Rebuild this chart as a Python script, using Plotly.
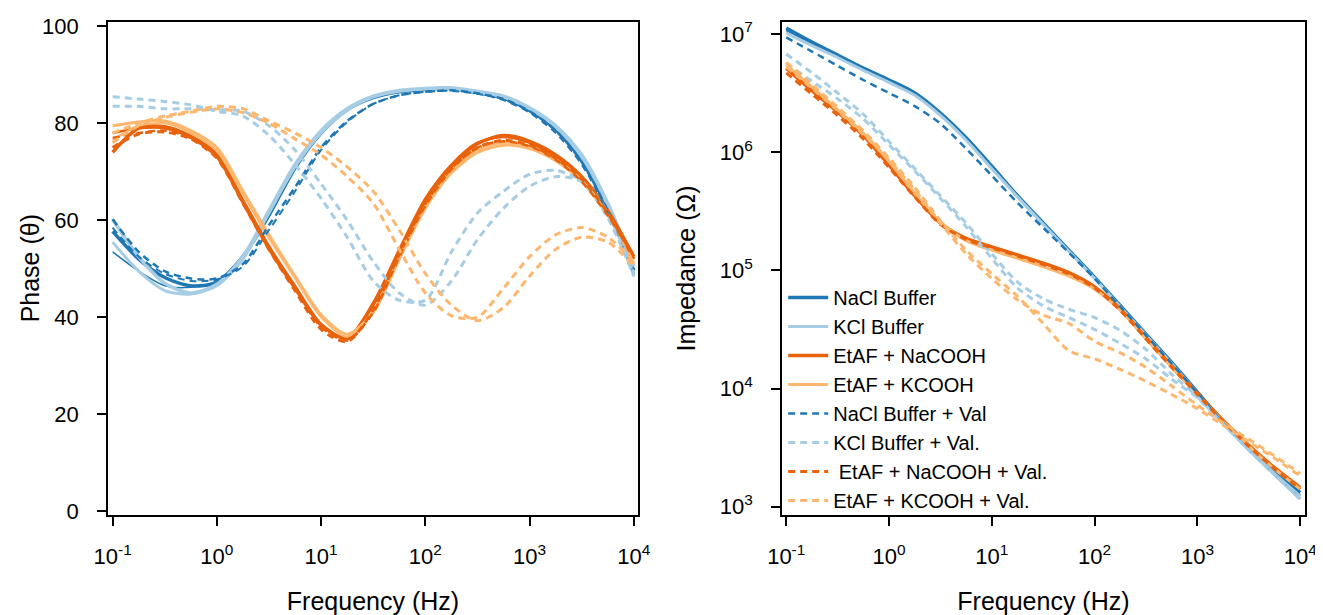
import plotly.graph_objects as go

# frequency grid (Hz), 4 points per decade
freq = [0.1, 0.178, 0.316, 0.562, 1, 1.78, 3.16, 5.62, 10, 17.8, 31.6, 56.2,
        100, 178, 316, 562, 1000, 1780, 3160, 5620, 10000]

# ---- phase (degrees), two replicates per condition ----
ph_nacl_1 = [57.7, 52.0, 48.2, 46.5, 47.2, 52.5, 61.0, 70.8, 78.0, 82.8, 85.3, 86.5, 87.0, 87.2, 86.3, 85.2, 82.7, 78.8, 72.5, 62.5, 49.6]
ph_nacl_2 = [53.5, 49.5, 46.5, 46.2, 47.5, 52.8, 61.5, 71.0, 78.3, 83.0, 85.5, 86.6, 87.0, 87.0, 86.2, 85.0, 82.5, 78.5, 72.0, 62.0, 49.0]
ph_kcl_1 = [60.2, 52.5, 47.0, 45.0, 46.8, 52.5, 62.0, 71.5, 78.5, 83.0, 85.6, 86.8, 87.2, 87.3, 86.6, 85.6, 83.2, 79.5, 73.5, 63.5, 50.5]
ph_kcl_2 = [55.5, 49.5, 45.5, 44.8, 46.5, 52.0, 61.5, 71.0, 78.0, 82.7, 85.4, 86.6, 87.1, 87.2, 86.4, 85.4, 83.0, 79.2, 73.0, 63.0, 48.5]
ph_etna_1 = [74.0, 79.0, 79.3, 77.3, 73.5, 64.0, 54.5, 46.3, 38.5, 35.6, 42.6, 53.5, 64.0, 71.2, 75.8, 77.5, 76.3, 73.5, 69.0, 62.0, 52.5]
ph_etna_2 = [78.0, 79.0, 79.0, 77.0, 73.0, 63.5, 54.0, 45.8, 38.2, 35.8, 43.0, 54.0, 64.5, 71.5, 76.0, 77.2, 76.0, 73.0, 68.5, 61.5, 52.0]
ph_etk_1 = [79.5, 80.3, 80.5, 78.5, 75.0, 66.0, 57.0, 48.5, 40.5, 36.5, 41.0, 52.0, 62.5, 69.8, 74.0, 75.5, 74.8, 72.3, 68.0, 61.0, 51.0]
ph_etk_2 = [76.5, 79.5, 80.0, 78.0, 74.3, 65.3, 56.3, 48.0, 40.0, 36.0, 41.5, 52.5, 63.0, 70.2, 74.5, 76.0, 75.2, 72.6, 68.3, 61.3, 51.5]
ph_nacl_val_1 = [60.2, 53.5, 49.5, 48.0, 48.0, 51.0, 59.0, 66.8, 75.0, 80.5, 84.0, 85.8, 86.5, 86.8, 86.2, 85.0, 82.5, 78.5, 72.0, 62.0, 49.0]
ph_nacl_val_2 = [58.5, 52.5, 49.0, 47.5, 47.8, 50.5, 58.0, 66.0, 74.5, 80.3, 84.0, 85.8, 86.5, 86.7, 86.1, 84.8, 82.2, 78.0, 71.5, 61.5, 48.5]
ph_kcl_val_1 = [85.5, 85.0, 84.5, 83.8, 82.5, 81.5, 77.5, 71.5, 64.5, 56.5, 47.5, 43.5, 43.5, 53.5, 61.5, 66.0, 69.5, 70.3, 68.0, 60.5, 48.5]
ph_kcl_val_2 = [83.5, 83.5, 83.0, 83.0, 82.8, 82.5, 79.5, 74.5, 67.5, 60.0, 51.5, 45.0, 42.5, 47.5, 56.0, 62.5, 67.0, 69.0, 68.0, 61.5, 49.0]
ph_etna_val_1 = [75.0, 77.8, 78.2, 76.8, 72.8, 63.5, 54.0, 45.5, 37.5, 35.0, 41.5, 53.0, 63.5, 70.8, 75.0, 76.5, 75.5, 72.8, 68.5, 61.5, 52.0]
ph_etna_val_2 = [77.0, 78.0, 78.5, 77.0, 73.0, 64.0, 54.5, 46.0, 38.0, 35.2, 41.0, 52.5, 63.0, 70.5, 75.0, 76.3, 75.3, 72.5, 68.0, 61.0, 52.5]
ph_etk_val_1 = [76.0, 79.5, 81.2, 82.3, 83.0, 82.2, 80.0, 76.8, 73.5, 69.0, 63.5, 54.0, 45.0, 40.3, 40.0, 46.0, 52.5, 57.0, 58.5, 56.5, 51.5]
ph_etk_val_2 = [78.0, 80.0, 81.5, 82.5, 83.5, 83.0, 80.5, 78.0, 75.0, 71.0, 66.0, 58.0, 49.0, 42.5, 39.3, 42.0, 48.5, 54.0, 56.5, 55.5, 50.5]

# ---- impedance magnitude (ohm) ----
z_nacl_1 = [1.12e7, 8.51e6, 6.61e6, 5.13e6, 4.07e6, 3.16e6, 2.14e6, 1.32e6, 7.59e5, 4.27e5, 2.51e5, 1.48e5, 8.71e4, 5.01e4, 2.88e4, 1.66e4, 9.33e3, 5.25e3, 3.16e3, 2.00e3, 1.32e3]
z_nacl_2 = [1.07e7, 8.32e6, 6.46e6, 5.01e6, 3.98e6, 3.09e6, 2.09e6, 1.29e6, 7.41e5, 4.17e5, 2.45e5, 1.45e5, 8.51e4, 4.90e4, 2.82e4, 1.62e4, 9.12e3, 5.13e3, 3.09e3, 1.95e3, 1.26e3]
z_kcl_1 = [1.02e7, 7.94e6, 6.31e6, 4.90e6, 3.89e6, 3.02e6, 2.04e6, 1.26e6, 7.24e5, 4.17e5, 2.45e5, 1.45e5, 8.51e4, 4.90e4, 2.82e4, 1.62e4, 9.12e3, 5.13e3, 3.09e3, 1.91e3, 1.23e3]
z_etna_1 = [5.13e6, 3.31e6, 2.19e6, 1.38e6, 7.76e5, 4.27e5, 2.51e5, 1.86e5, 1.58e5, 1.35e5, 1.15e5, 9.55e4, 7.24e4, 4.68e4, 2.69e4, 1.55e4, 9.12e3, 5.37e3, 3.31e3, 2.14e3, 1.45e3]
z_etk_1 = [5.50e6, 3.55e6, 2.29e6, 1.45e6, 8.32e5, 4.47e5, 2.57e5, 1.78e5, 1.48e5, 1.26e5, 1.07e5, 8.91e4, 6.92e4, 4.57e4, 2.63e4, 1.51e4, 8.91e3, 5.25e3, 3.24e3, 2.09e3, 1.41e3]
z_nacl_val_1 = [9.33e6, 7.08e6, 5.37e6, 4.07e6, 3.16e6, 2.45e6, 1.74e6, 1.07e6, 6.31e5, 3.72e5, 2.29e5, 1.41e5, 8.51e4, 4.90e4, 2.82e4, 1.62e4, 9.12e3, 5.13e3, 3.02e3, 1.86e3, 1.17e3]
z_kcl_val_1 = [6.76e6, 4.68e6, 3.16e6, 2.09e6, 1.23e6, 7.24e5, 4.27e5, 2.51e5, 1.38e5, 7.94e4, 5.75e4, 4.68e4, 3.98e4, 3.09e4, 2.14e4, 1.32e4, 8.51e3, 5.01e3, 3.02e3, 1.86e3, 1.17e3]
z_kcl_val_2 = [5.62e6, 3.98e6, 2.82e6, 1.91e6, 1.15e6, 6.92e5, 4.07e5, 2.34e5, 1.26e5, 7.08e4, 5.01e4, 3.98e4, 3.16e4, 2.40e4, 1.78e4, 1.20e4, 8.32e3, 5.01e3, 3.02e3, 1.86e3, 1.15e3]
z_etna_val_1 = [4.68e6, 3.09e6, 2.04e6, 1.29e6, 7.41e5, 4.17e5, 2.45e5, 1.82e5, 1.55e5, 1.32e5, 1.12e5, 9.33e4, 7.08e4, 4.57e4, 2.63e4, 1.51e4, 8.91e3, 5.25e3, 3.24e3, 2.09e3, 1.41e3]
z_etk_val_1 = [5.75e6, 3.72e6, 2.40e6, 1.51e6, 8.91e5, 5.01e5, 2.63e5, 1.48e5, 9.33e4, 6.03e4, 3.55e4, 2.09e4, 1.78e4, 1.45e4, 1.15e4, 8.91e3, 6.76e3, 4.90e3, 3.55e3, 2.57e3, 1.82e3]
z_etk_val_2 = [5.25e6, 3.47e6, 2.24e6, 1.41e6, 8.51e5, 4.79e5, 2.51e5, 1.38e5, 8.51e4, 5.62e4, 4.17e4, 3.55e4, 2.51e4, 2.00e4, 1.51e4, 1.05e4, 7.24e3, 5.13e3, 3.72e3, 2.69e3, 1.91e3]

x_ticks = [0.1, 1, 10, 100, 1000, 10000]
x_text = ["10<sup>-1</sup>", "10<sup>0</sup>", "10<sup>1</sup>", "10<sup>2</sup>", "10<sup>3</sup>", "10<sup>4</sup>"]
z_ticks = [1e3, 1e4, 1e5, 1e6, 1e7]
z_text = ["10<sup>3</sup>", "10<sup>4</sup>", "10<sup>5</sup>", "10<sup>6</sup>", "10<sup>7</sup>"]

DBLUE = "#1f77b4"
LBLUE = "#a6cde3"
DORANGE = "#e8620c"
LORANGE = "#fdb66d"
DASH = "7px,5px"

# name, colour, dash, [(phase, width)...], [(impedance, width)...]
series = [
    ("NaCl Buffer", DBLUE, "solid", [(ph_nacl_1, 3.5), (ph_nacl_2, 1.6)], [(z_nacl_1, 3.5), (z_nacl_2, 2)]),
    ("KCl Buffer", LBLUE, "solid", [(ph_kcl_1, 3.5), (ph_kcl_2, 3)], [(z_kcl_1, 3)]),
    ("EtAF + NaCOOH", DORANGE, "solid", [(ph_etna_1, 3.5), (ph_etna_2, 2.5)], [(z_etna_1, 3.5)]),
    ("EtAF + KCOOH", LORANGE, "solid", [(ph_etk_1, 3), (ph_etk_2, 2)], [(z_etk_1, 3)]),
    ("NaCl Buffer + Val", DBLUE, DASH, [(ph_nacl_val_1, 2.5), (ph_nacl_val_2, 2)], [(z_nacl_val_1, 2.5)]),
    ("KCl Buffer + Val.", LBLUE, DASH, [(ph_kcl_val_1, 3), (ph_kcl_val_2, 3)], [(z_kcl_val_1, 3), (z_kcl_val_2, 3)]),
    (" EtAF + NaCOOH + Val.", DORANGE, DASH, [(ph_etna_val_1, 3), (ph_etna_val_2, 2.5)], [(z_etna_val_1, 3)]),
    ("EtAF + KCOOH + Val.", LORANGE, DASH, [(ph_etk_val_1, 3), (ph_etk_val_2, 3)], [(z_etk_val_1, 3), (z_etk_val_2, 3)]),
]

fig = go.Figure()
for name, col, dash, phs, zs in series:
    for ph, w in phs:
        fig.add_trace(go.Scatter(x=freq, y=ph, mode="lines", name=name, legendgroup=name,
                                 showlegend=False, xaxis="x", yaxis="y",
                                 line=dict(color=col, width=w, dash=dash, shape="spline", smoothing=0.8)))
    for i, (z, w) in enumerate(zs):
        fig.add_trace(go.Scatter(x=freq, y=z, mode="lines", name=name, legendgroup=name,
                                 showlegend=(i == 0), xaxis="x2", yaxis="y2",
                                 line=dict(color=col, width=w, dash=dash, shape="spline", smoothing=0.8)))

FONT = "Liberation Sans, Arial, sans-serif"
ax = dict(showline=True, mirror=True, linecolor="black", linewidth=1.5, ticks="outside",
          ticklen=9, tickwidth=1.5, tickcolor="black", showgrid=False, zeroline=False,
          automargin=False, ticklabeloverflow="allow",
          tickfont=dict(size=22, color="black", family=FONT),
          title_font=dict(size=25, color="black", family=FONT))

# page body adds an 8px margin, so the figure is sized to end at the window edge
fig.update_layout(
    width=1315, height=607,
    margin=dict(l=0, r=0, t=0, b=0),
    paper_bgcolor="white", plot_bgcolor="white",
    font=dict(family=FONT, color="black"),
    xaxis=dict(ax, domain=[0.0760, 0.4791], type="log", range=[-1.045, 4.04],
               tickvals=x_ticks, ticktext=x_text, anchor="y", ticklabelstandoff=12,
               title=dict(text="Frequency (Hz)", standoff=24)),
    yaxis=dict(ax, domain=[0.1647, 0.9769], range=[-0.8, 100.9], tickvals=[0, 20, 40, 60, 80, 100],
               anchor="x", ticklabelstandoff=14),
    xaxis2=dict(ax, domain=[0.5886, 0.9862], type="log", range=[-1.041, 4.045],
                tickvals=x_ticks, ticktext=x_text, anchor="y2", ticklabelstandoff=12,
                title=dict(text="Frequency (Hz)", standoff=24)),
    yaxis2=dict(ax, domain=[0.1647, 0.9769], type="log", range=[2.93, 7.10],
                tickvals=z_ticks, ticktext=z_text, anchor="x2", ticklabelstandoff=14),
    legend=dict(x=0.5895, y=0.555, xanchor="left", yanchor="top", bgcolor="rgba(0,0,0,0)",
                font=dict(size=20, color="black", family=FONT), tracegroupgap=0, itemwidth=40),
    annotations=[
        dict(text="Phase (θ)", textangle=-90, x=0.0167, y=0.571, xref="paper", yref="paper",
             xanchor="center", yanchor="middle", showarrow=False,
             font=dict(size=25, color="black", family=FONT)),
        dict(text="Impedance (Ω)", textangle=-90, x=0.5156, y=0.571, xref="paper", yref="paper",
             xanchor="center", yanchor="middle", showarrow=False,
             font=dict(size=25, color="black", family=FONT)),
    ],
)

fig.write_html("out.html")
